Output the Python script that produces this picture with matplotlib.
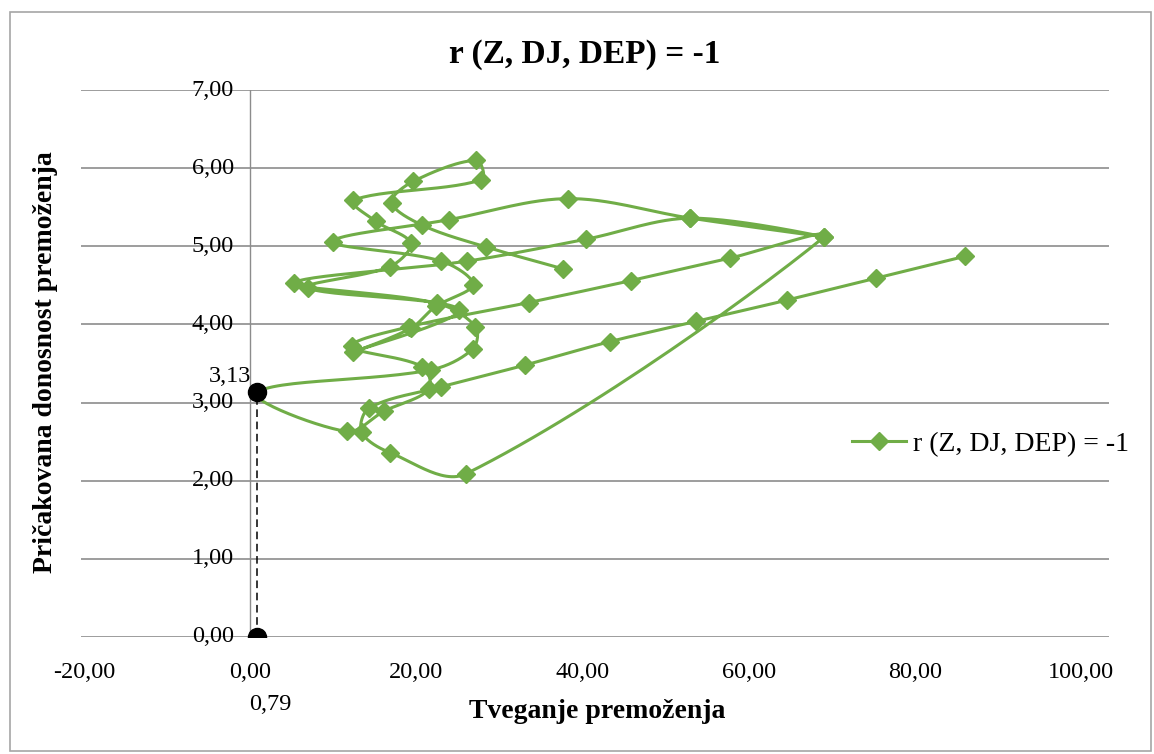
import numpy as np
import matplotlib.pyplot as plt
from matplotlib.lines import Line2D

# Portfolio risk (x) and expected return (y), in the order of the weight table.
# Blocks follow the DEP weight; the table runs back and forth along each block.
risk_dep0 = [86.0, 75.3, 64.6, 53.7, 43.3, 33.1, 22.9, 14.3, 13.4, 16.8, 26.0]
ret_dep0 = [4.87, 4.59, 4.31, 4.04, 3.78, 3.48, 3.20, 2.93, 2.62, 2.36, 2.09]
risk_dep1 = [69.1, 57.8, 45.8, 33.5, 19.1, 12.2, 20.7, 21.5, 16.1, 11.6]
ret_dep1 = [5.12, 4.85, 4.56, 4.28, 3.97, 3.72, 3.46, 3.17, 2.89, 2.63]
risk_dep2 = [0.79, 21.8, 26.8, 27.1, 22.5, 5.3, 26.1, 40.4, 53.0, 69.1, 53.0]
ret_dep2 = [3.13, 3.42, 3.69, 3.97, 4.27, 4.53, 4.81, 5.09, 5.36, 5.12, 5.36]
risk_dep3 = [38.3, 23.9, 9.9, 23.0, 26.8, 22.3, 19.3, 12.4]
ret_dep3 = [5.61, 5.34, 5.06, 4.81, 4.51, 4.23, 3.95, 3.65]
risk_dep4 = [25.1, 6.9, 16.8, 19.3, 15.1, 12.4, 27.8]
ret_dep4 = [4.19, 4.47, 4.74, 5.04, 5.32, 5.59, 5.85]
risk_dep5 = [27.2, 19.6, 17.0, 20.7, 28.4, 37.7]
ret_dep5 = [6.10, 5.83, 5.56, 5.27, 4.99, 4.71]

# minimum variance portfolio
min_risk = 0.79
min_ret = 3.13

x_ticks = [-20, 0, 20, 40, 60, 80, 100]
y_ticks = [0, 1, 2, 3, 4, 5, 6, 7]

GREEN = "#70AD47"
GRID = "#8C8C8C"


def fmt(v):
    return f"{v:.2f}".replace(".", ",")


def smooth_path(xs, ys, sx, sy, n=30):
    # Bezier through every point, tangents weighted by segment lengths
    p = np.column_stack([np.asarray(xs) * sx, np.asarray(ys) * sy])
    out = [p[0]]
    m = len(p)
    t = np.linspace(0, 1, n)[1:, None]
    for i in range(m - 1):
        p0 = p[i - 1] if i > 0 else p[i]
        p1, p2 = p[i], p[i + 1]
        p3 = p[i + 2] if i + 2 < m else p[i + 1]
        d01 = np.linalg.norm(p1 - p0)
        d12 = np.linalg.norm(p2 - p1)
        d23 = np.linalg.norm(p3 - p2)
        k1 = d12 / (d01 + d12) if d01 + d12 > 0 else 0
        k2 = d12 / (d12 + d23) if d12 + d23 > 0 else 0
        c1 = p1 + (p2 - p0) * k1 / 3
        c2 = p2 - (p3 - p1) * k2 / 3
        seg = ((1 - t) ** 3) * p1 + 3 * ((1 - t) ** 2) * t * c1 \
            + 3 * (1 - t) * t ** 2 * c2 + t ** 3 * p2
        out.extend(seg)
    out = np.array(out)
    return out[:, 0] / sx, out[:, 1] / sy


def main():
    plt.rcParams["font.family"] = ["Liberation Serif", "DejaVu Serif"]

    risk = risk_dep0 + risk_dep1 + risk_dep2 + risk_dep3 + risk_dep4 + risk_dep5
    ret = ret_dep0 + ret_dep1 + ret_dep2 + ret_dep3 + ret_dep4 + ret_dep5

    fig = plt.figure(figsize=(11.54, 7.54), dpi=100)
    ax = fig.add_axes([81 / 1154, 117 / 754, 1028 / 1154, 547 / 754])
    ax.set_xlim(-20.4, 103.4)
    ax.set_ylim(0, 7)

    # horizontal gridlines, vertical axis sits at x = 0
    for yv in y_ticks:
        ax.axhline(yv, color=GRID, lw=1.2, zorder=1)
    ax.plot([0, 0], [0, 7], color=GRID, lw=1.0, zorder=1)
    for s in ax.spines.values():
        s.set_visible(False)
    ax.set_xticks(x_ticks)
    ax.set_xticklabels([fmt(v) for v in x_ticks], fontsize=17.5)
    ax.set_yticks([])
    ax.tick_params(axis="x", length=0, pad=18)
    for yv in y_ticks:
        ax.text(-2.0, yv, fmt(yv), fontsize=17.5, ha="right", va="center")

    # axes in pixel-like proportions for smoothing
    sx = 1028 / 123.8
    sy = 547 / 7
    lx, ly = smooth_path(risk, ret, sx, sy)
    ax.plot(lx, ly, color=GREEN, lw=2.2, zorder=3, solid_capstyle="round")
    ax.plot(risk, ret, linestyle="none", marker="D", markersize=9,
            color=GREEN, zorder=4)

    # minimum variance point with drop line
    ax.plot([min_risk, min_risk], [0, min_ret], color="black", lw=1.1,
            linestyle=(0, (5, 3)), zorder=5)
    ax.plot([min_risk, min_risk], [0, min_ret], linestyle="none", marker="o",
            markersize=13, color="black", zorder=6)
    ax.text(0.1, min_ret + 0.2, fmt(min_ret), fontsize=17.5,
            ha="right", va="center")
    ax.text(min_risk + 1.6, -0.86, fmt(min_risk), fontsize=17.5,
            ha="center", va="center")

    fig.text(585 / 1154, 1 - 55 / 754, "r (Z, DJ, DEP) = -1", fontsize=24,
             fontweight="bold", ha="center", va="center")
    fig.text(597 / 1154, 1 - 712 / 754, "Tveganje premoženja", fontsize=20,
             fontweight="bold", ha="center", va="center")
    fig.text(0.039, 0.52, "Pričakovana donosnost premoženja", fontsize=20,
             fontweight="bold", rotation=90, ha="center", va="center")

    handle = Line2D([], [], color=GREEN, lw=2.2, marker="D", markersize=9)
    ax.legend([handle], ["r (Z, DJ, DEP) = -1"], loc="center left",
              bbox_to_anchor=(0.750, 0.352), frameon=False, fontsize=20,
              handlelength=1.95, handletextpad=0.25, borderaxespad=0,
              borderpad=0)

    # chart border
    fig.add_artist(plt.Rectangle((0.009, 0.004), 0.988, 0.98,
                                 transform=fig.transFigure, fill=False,
                                 edgecolor="#A6A6A6", lw=1.2))

    fig.savefig("out.png", dpi=100)


if __name__ == "__main__":
    main()
